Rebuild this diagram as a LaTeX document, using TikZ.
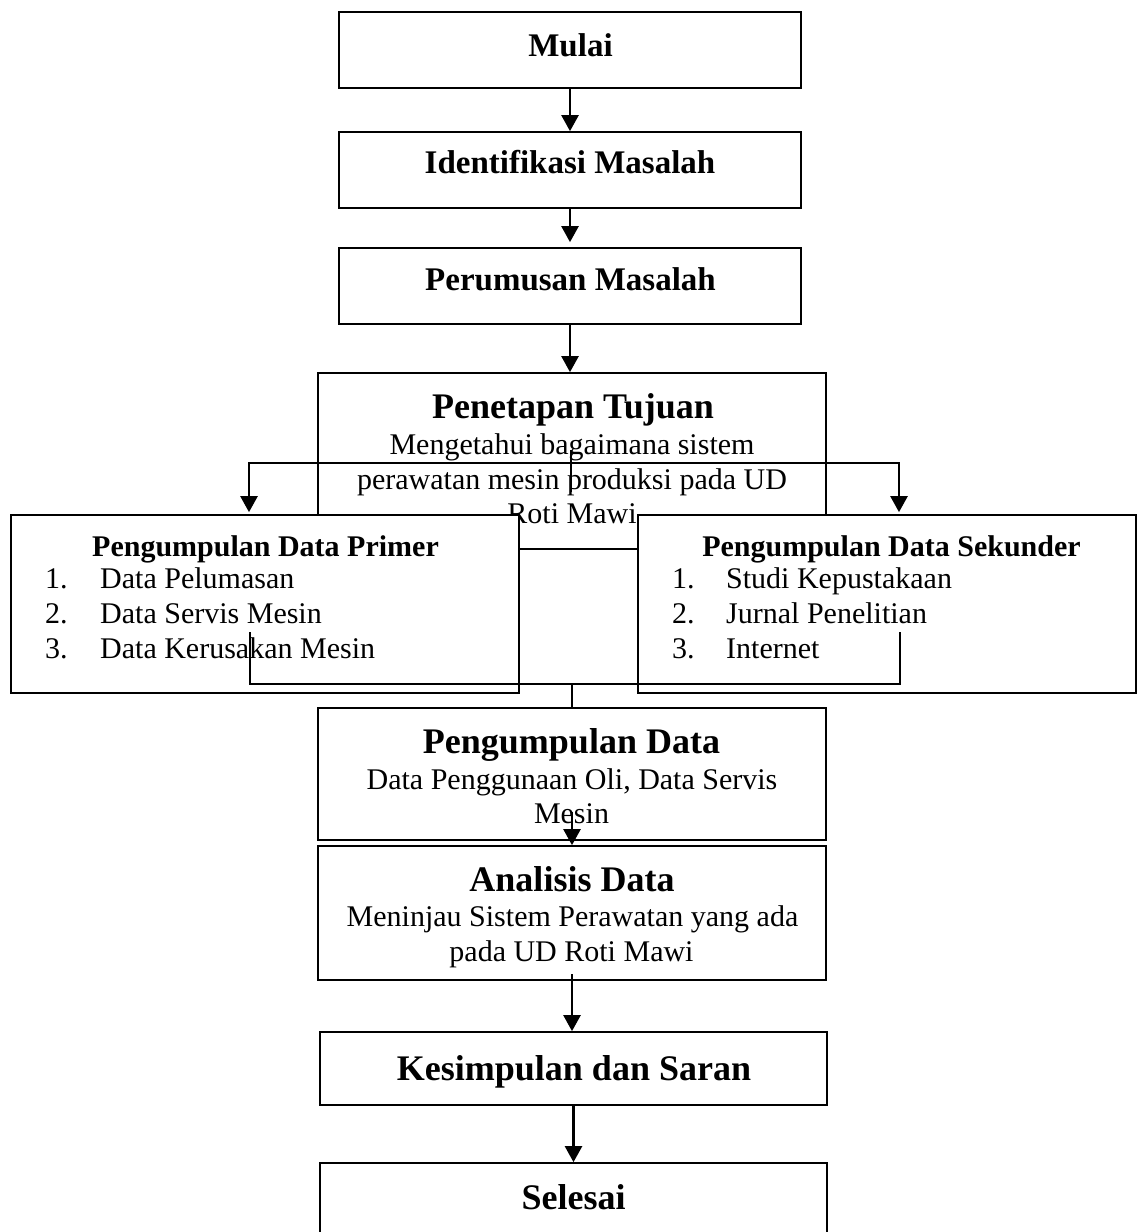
\documentclass[tikz,border=0pt]{standalone}
\usepackage{fontspec}
\setmainfont{Liberation Serif}
\usetikzlibrary{arrows.meta}
\begin{document}
\begin{tikzpicture}[x=1pt,y=-1pt,
  box/.style={draw=black, line width=1.7pt, fill=white, inner sep=0pt},
  conn/.style={draw=black, line width=2.4pt},
  arr/.style={conn, -{Triangle[length=16pt,width=17pt]}},
  ttitle/.style={anchor=base, inner sep=0pt, font=\fontsize{36}{36}\selectfont\bfseries},
  tmid/.style={anchor=base, inner sep=0pt, font=\fontsize{33}{33}\selectfont\bfseries},
  thead/.style={anchor=base, inner sep=0pt, font=\fontsize{30}{30}\selectfont\bfseries},
  tbody/.style={anchor=base, inner sep=0pt, font=\fontsize{30}{30}\selectfont},
  titem/.style={anchor=base west, inner sep=0pt, font=\fontsize{30}{30}\selectfont}]
\clip (0,0) rectangle (1137,1232);
\fill[white] (0,0) rectangle (1137,1232);

% top boxes
\node[box, minimum width=462pt, minimum height=76pt] (mulai) at (570,50) {};
\node[tmid] (mulaiT) at (570.5,56) {Mulai};
\node[box, minimum width=462pt, minimum height=76pt] (ident) at (570,170) {};
\node[tmid] (identT) at (570,173) {Identifikasi Masalah};
\node[box, minimum width=462pt, minimum height=76pt] (perum) at (570,286) {};
\node[tmid] (perumT) at (570.5,290) {Perumusan Masalah};

% Penetapan Tujuan
\node[box, minimum width=508pt, minimum height=176pt] (tujuan) at (572,461) {};
\node[ttitle] (tujuanT) at (573,418) {Penetapan Tujuan};
\node[tbody] (tujuan1) at (572,454) {Mengetahui bagaimana sistem};
\node[tbody] (tujuan2) at (572,489) {perawatan mesin produksi pada UD};
\node[tbody] (tujuan3) at (572,523) {Roti Mawi};

% side boxes
\node[box, minimum width=508pt, minimum height=178pt] (primer) at (265,604) {};
\node[thead] (primerT) at (265.5,556) {Pengumpulan Data Primer};
\node[titem] (primer1) at (45,588) {\makebox[55pt][l]{1.}Data Pelumasan};
\node[titem] (primer2) at (45,623) {\makebox[55pt][l]{2.}Data Servis Mesin};
\node[titem] (primer3) at (45,658) {\makebox[55pt][l]{3.}Data Kerusakan Mesin};

\node[box, minimum width=498pt, minimum height=178pt] (sekunder) at (887,604) {};
\node[thead] (sekunderT) at (891.5,556) {Pengumpulan Data Sekunder};
\node[titem] (sekunder1) at (672,588) {\makebox[54pt][l]{1.}Studi Kepustakaan};
\node[titem] (sekunder2) at (672,623) {\makebox[54pt][l]{2.}Jurnal Penelitian};
\node[titem] (sekunder3) at (672,658) {\makebox[54pt][l]{3.}Internet};

% Pengumpulan Data
\node[box, minimum width=508pt, minimum height=132pt] (pdata) at (572,774) {};
\node[ttitle] (pdataT) at (571.5,753) {Pengumpulan Data};
\node[tbody] (pdata1) at (572,789) {Data Penggunaan Oli, Data Servis};
\node[tbody] (pdata2) at (571.5,823) {Mesin};

% Analisis Data
\node[box, minimum width=508pt, minimum height=134pt] (analisis) at (572,913) {};
\node[ttitle] (analisisT) at (572,891) {Analisis Data};
\node[tbody] (analisis1) at (572.5,926) {Meninjau Sistem Perawatan yang ada};
\node[tbody] (analisis2) at (571.5,961) {pada UD Roti Mawi};

% Kesimpulan, Selesai
\node[box, minimum width=507pt, minimum height=73pt] (kesimpulan) at (573.5,1068.5) {};
\node[ttitle] (kesimpulanT) at (574,1080) {Kesimpulan dan Saran};
\node[box, minimum width=507pt, minimum height=82pt] (selesai) at (573.5,1204) {};
\node[ttitle] (selesaiT) at (573.5,1209) {Selesai};

% connectors
\draw[arr] (mulai.south) -- (ident.north);
\draw[arr, shorten >=5pt] (ident.south) -- (perum.north);
\draw[arr] (perum.south) -- (perum.south |- tujuan.north);

\coordinate (bt) at (571,450);
\coordinate (bb) at (571,492);
\coordinate (bl) at (249,463);
\coordinate (br) at (899,463);
\draw[conn] (bt) -- (bb);
\draw[conn, line cap=rect] (bl) -- (br);
\draw[arr, shorten >=2pt] (bl) -- (bl |- primer.north);
\draw[arr, shorten >=2pt] (br) -- (br |- sekunder.north);

\coordinate (ml) at (250,632);
\coordinate (mr) at (900,632);
\coordinate (mc) at (572,684);
\draw[conn, line width=1.7pt] (ml) -- (ml |- mc) -- (mr |- mc) -- (mr);
\draw[conn] (mc) -- (pdata.north);

\coordinate (pa) at (572,812);
\draw[arr] (pa) -- (analisis.north);
\coordinate (ak) at (572,974);
\draw[arr] (ak) -- (ak |- kesimpulan.north);
\draw[arr] (kesimpulan.south) -- (selesai.north);
\end{tikzpicture}
\end{document}
